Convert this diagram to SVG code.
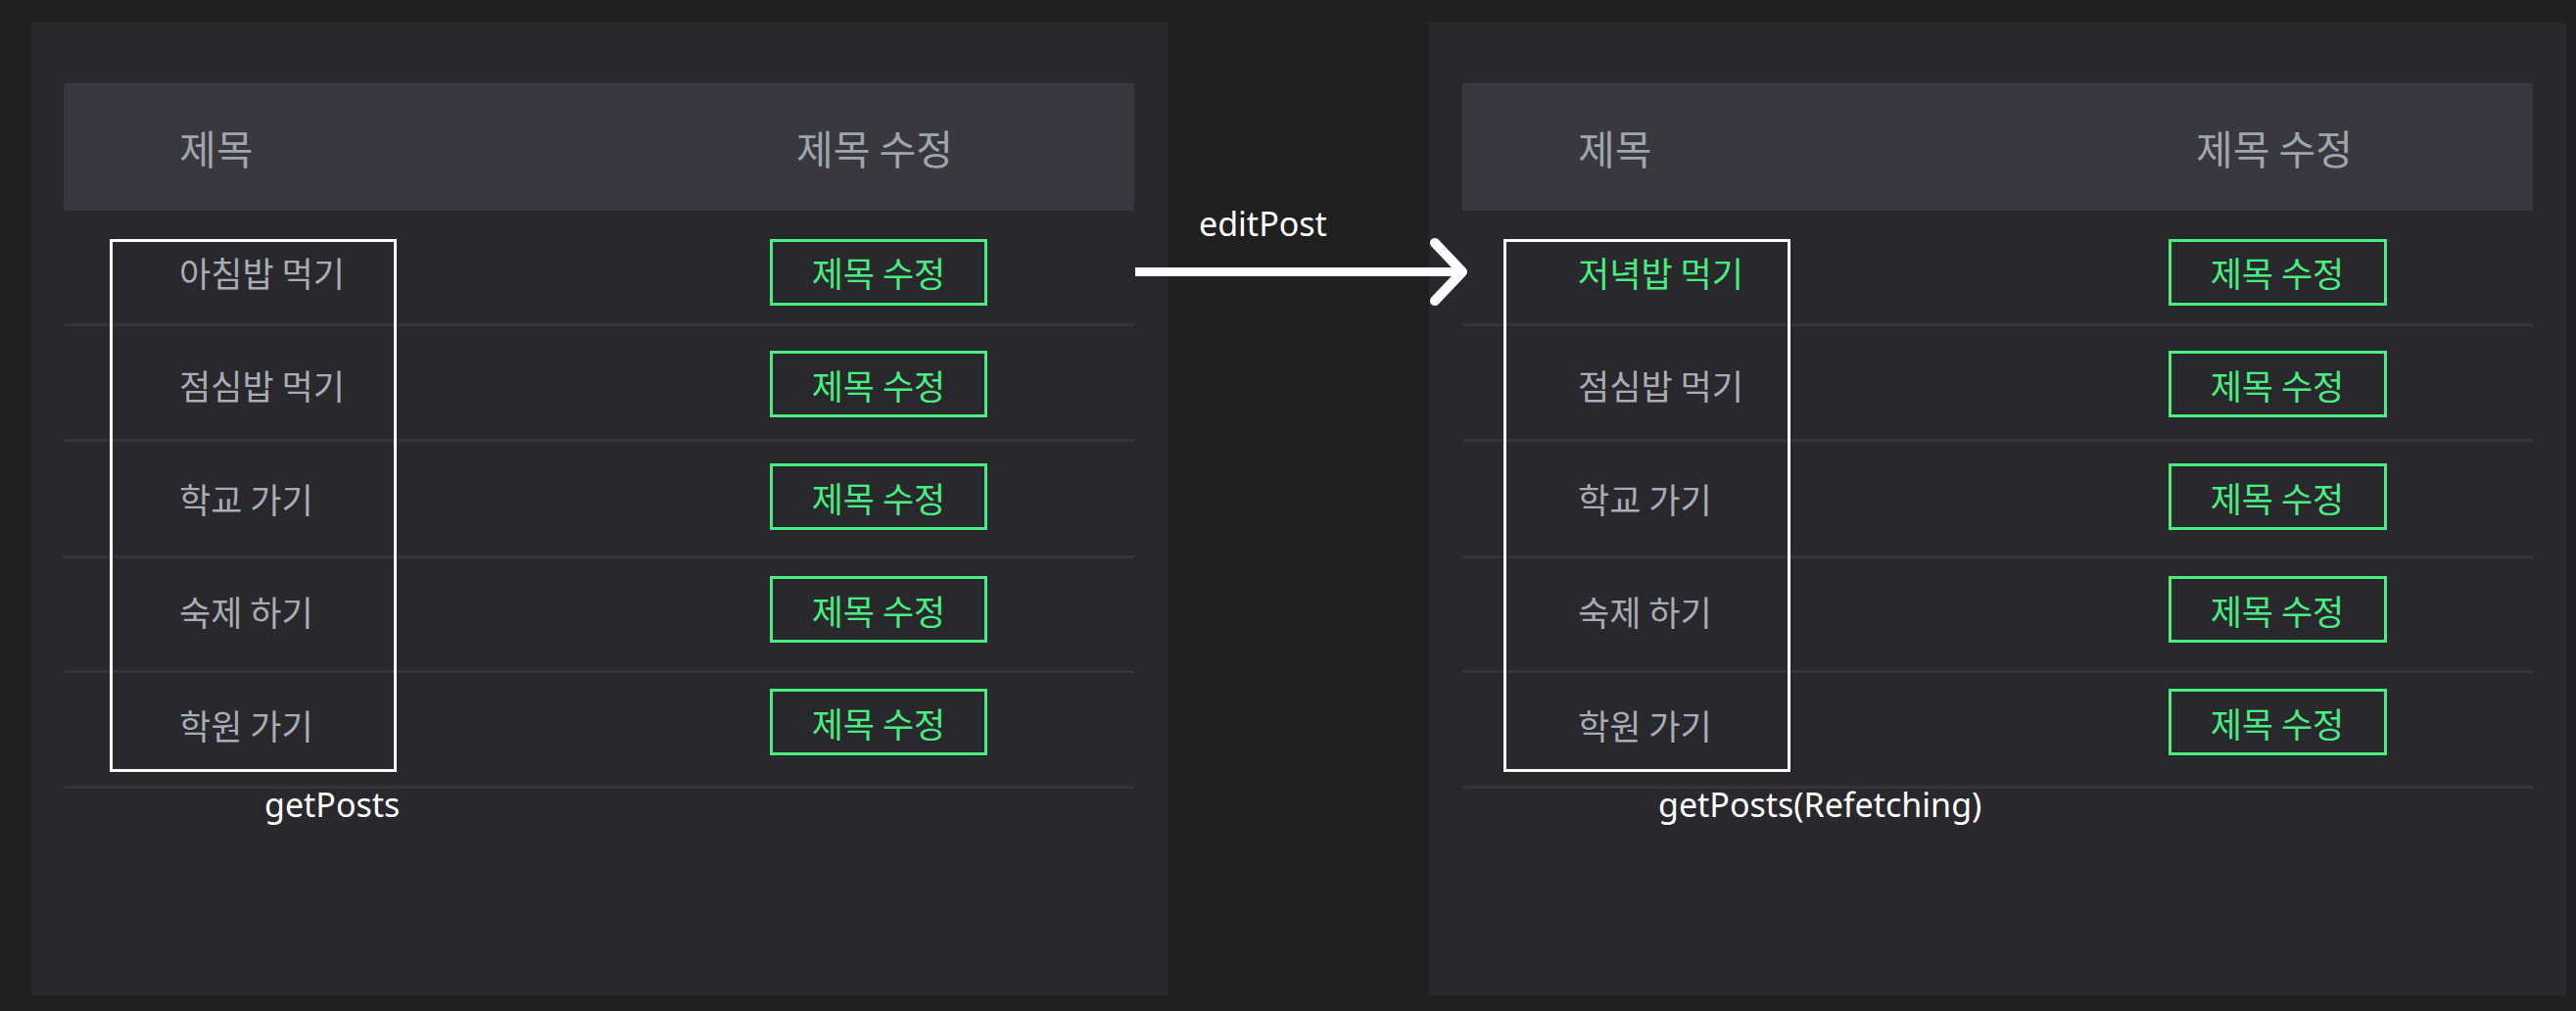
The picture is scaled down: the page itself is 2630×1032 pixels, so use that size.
<svg xmlns="http://www.w3.org/2000/svg" width="2630" height="1032" viewBox="0 0 2630 1032">
<style>
.bg{fill:#202020}
.panel{fill:#28282d}
.head{fill:#38383e}
.div{fill:#343439}
.ht{font-family:"Noto Sans CJK KR","Noto Sans",sans-serif;font-size:41px;fill:#a0a4ad;dominant-baseline:central}
.rt{font-family:"Noto Sans CJK KR","Noto Sans",sans-serif;font-size:35px;fill:#a9acb4;dominant-baseline:central}
.gt{font-family:"Noto Sans CJK KR","Noto Sans",sans-serif;font-size:35px;fill:#4aed80;dominant-baseline:central}
.btn{fill:none;stroke:#4aed80;stroke-width:3}
.sel{fill:none;stroke:#ffffff;stroke-width:3}
.lbl{font-family:"Noto Sans","Open Sans",sans-serif;font-size:34px;fill:#ffffff}
.arr{fill:none;stroke:#ffffff;stroke-width:10;stroke-linecap:round;stroke-linejoin:round}
</style>
<rect class="bg" x="0" y="0" width="2630" height="1032"/>

<g id="left-panel">
<rect class="panel" x="32" y="23" width="1160" height="993"/>
<rect class="head" x="65" y="85" width="1093" height="130"/>
<text class="ht" x="183" y="150">제목</text>
<text class="ht" x="893" y="150" text-anchor="middle">제목 수정</text>
<rect class="div" x="65" y="330" width="1093" height="3"/>
<rect class="div" x="65" y="448" width="1093" height="3"/>
<rect class="div" x="65" y="567" width="1093" height="3"/>
<rect class="div" x="65" y="684" width="1093" height="3"/>
<rect class="div" x="65" y="802" width="1093" height="3"/>
<text class="rt" x="183" y="277">아침밥 먹기</text>
<text class="rt" x="183" y="392">점심밥 먹기</text>
<text class="rt" x="183" y="508">학교 가기</text>
<text class="rt" x="183" y="623">숙제 하기</text>
<text class="rt" x="183" y="739">학원 가기</text>
<rect class="btn" x="787.5" y="245.5" width="219" height="65"/>
<rect class="btn" x="787.5" y="359.5" width="219" height="65"/>
<rect class="btn" x="787.5" y="474.5" width="219" height="65"/>
<rect class="btn" x="787.5" y="589.5" width="219" height="65"/>
<rect class="btn" x="787.5" y="704.5" width="219" height="65"/>
<text class="gt" x="897" y="277" text-anchor="middle">제목 수정</text>
<text class="gt" x="897" y="392" text-anchor="middle">제목 수정</text>
<text class="gt" x="897" y="507" text-anchor="middle">제목 수정</text>
<text class="gt" x="897" y="622" text-anchor="middle">제목 수정</text>
<text class="gt" x="897" y="737" text-anchor="middle">제목 수정</text>
</g>
<g id="left-selection">
<rect class="sel" x="113.5" y="245.5" width="290" height="541"/>
<text class="lbl" x="270" y="834">getPosts</text>
</g>

<g id="right-panel">
<rect class="panel" x="1459" y="23" width="1161" height="993"/>
<rect class="head" x="1493" y="85" width="1093" height="130"/>
<text class="ht" x="1611" y="150">제목</text>
<text class="ht" x="2322" y="150" text-anchor="middle">제목 수정</text>
<rect class="div" x="1493" y="330" width="1093" height="3"/>
<rect class="div" x="1493" y="448" width="1093" height="3"/>
<rect class="div" x="1493" y="567" width="1093" height="3"/>
<rect class="div" x="1493" y="684" width="1093" height="3"/>
<rect class="div" x="1493" y="802" width="1093" height="3"/>
<text class="gt" x="1611" y="277">저녁밥 먹기</text>
<text class="rt" x="1611" y="392">점심밥 먹기</text>
<text class="rt" x="1611" y="508">학교 가기</text>
<text class="rt" x="1611" y="623">숙제 하기</text>
<text class="rt" x="1611" y="739">학원 가기</text>
<rect class="btn" x="2215.5" y="245.5" width="220" height="65"/>
<rect class="btn" x="2215.5" y="359.5" width="220" height="65"/>
<rect class="btn" x="2215.5" y="474.5" width="220" height="65"/>
<rect class="btn" x="2215.5" y="589.5" width="220" height="65"/>
<rect class="btn" x="2215.5" y="704.5" width="220" height="65"/>
<text class="gt" x="2325" y="277" text-anchor="middle">제목 수정</text>
<text class="gt" x="2325" y="392" text-anchor="middle">제목 수정</text>
<text class="gt" x="2325" y="507" text-anchor="middle">제목 수정</text>
<text class="gt" x="2325" y="622" text-anchor="middle">제목 수정</text>
<text class="gt" x="2325" y="737" text-anchor="middle">제목 수정</text>
</g>
<g id="right-selection">
<rect class="sel" x="1536.5" y="245.5" width="290" height="541"/>
<text class="lbl" x="1693" y="834">getPosts(Refetching)</text>
</g>

<g id="connectors">
<line x1="1159" y1="277.5" x2="1488" y2="277.5" stroke="#ffffff" stroke-width="9"/>
<polyline class="arr" points="1465,248 1493,277.5 1465,307"/>
<text class="lbl" x="1224" y="241">editPost</text>
</g>
</svg>
